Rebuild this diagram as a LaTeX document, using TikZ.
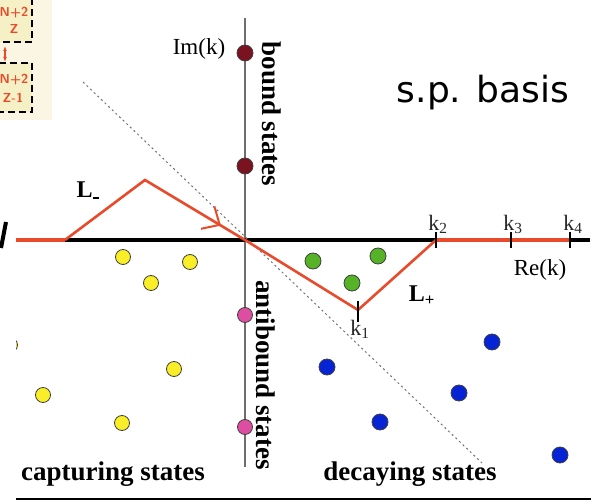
\documentclass[tikz,border=0pt]{standalone}
\usepackage{fontspec}
\setmainfont{Liberation Serif}
\newfontfamily\basisfont{DejaVu Sans}
\usetikzlibrary{arrows.meta,calc,decorations.markings}
\definecolor{contourred}{RGB}{232,74,44}
\definecolor{axisgray}{RGB}{110,110,110}
\definecolor{boundred}{RGB}{122,18,32}
\definecolor{antipink}{RGB}{222,78,160}
\definecolor{resgreen}{RGB}{86,178,38}
\definecolor{decayblue}{RGB}{6,36,214}
\definecolor{capyellow}{RGB}{250,238,40}
\definecolor{panelfill}{RGB}{251,246,228}
\definecolor{boxfill}{RGB}{246,240,198}
\tikzset{
statedot/.style={circle, inner sep=0pt, minimum size=15pt, draw=black!75, line width=0.8pt},
axislabel/.style={font=\fontsize{23}{26}\selectfont, text=black},
klabel/.style={font=\fontsize{22}{24}\selectfont, text=black!85},
contlabel/.style={font=\fontsize{24}{26}\selectfont\bfseries, text=black},
regionlabel/.style={font=\fontsize{27}{30}\selectfont\bfseries, text=black},
sidelabel/.style={font=\fontsize{27}{30}\selectfont\bfseries, text=black, rotate=-90},
ktick/.style={line width=2.6pt, draw=black},
contour/.style={draw=contourred, line width=2.6pt, line join=miter},
panelbox/.style={draw=black, dashed, dash pattern=on 7pt off 4pt, line width=2.4pt, fill=boxfill},
paneltext/.style={font=\fontsize{13}{14}\sffamily\bfseries\selectfont, text=contourred, inner sep=1pt}
}

\begin{document}
\begin{tikzpicture}[x=1pt,y=-1pt]
\useasboundingbox (0,0) rectangle (591,502);
\fill[white] (0,0) rectangle (591,502);

% left fragment
\fill[panelfill] (0,0) rectangle (52,120);
\draw[panelbox] (-20,-12) rectangle (32,42);
\draw[panelbox] (-20,63) rectangle (32,112);
\node[paneltext] (nzone) at (14,13) {N+2};
\node[paneltext] (zone) at (14,29) {Z};
\node[paneltext] (nztwo) at (14,80) {N+2};
\node[paneltext] (zztwo) at (13,98) {Z-1};
\coordinate (ua) at (5,46);
\coordinate (ub) at (5,62);
\draw[{Latex[length=5pt]}-{Latex[length=5pt]}, draw=contourred, line width=2pt] (ua) -- (ub);
\draw[line width=4pt] (6,222) -- (1,248);

\begin{scope}
\clip (16,0) rectangle (591,502);

% axes
\draw[line width=1.1pt, draw=axisgray] (245,18) -- (245,467);
\draw[line width=3.6pt] (16,240) -- (590,240);
\draw[dashed, dash pattern=on 2pt off 3pt, line width=1pt, draw=black!55] (83,82) -- (482,463);

% contour
\coordinate (Lstart) at (16,240);
\coordinate (Lfoot) at (65,240);
\coordinate (Lpeak) at (145,180);
\coordinate (origin) at (245,240);
\coordinate (kone) at (358,310);
\coordinate (ktwo) at (436,240);
\coordinate (kthree) at (511,240);
\coordinate (kfour) at (570,240);

\draw[draw=contourred, line width=4.6pt] (Lstart) -- (Lfoot);
\draw[draw=contourred, line width=4.6pt] (ktwo) -- (kfour);
\draw[contour] (Lfoot) -- (Lpeak) -- (origin) -- (kone) -- (ktwo);
\path[decoration={markings, mark=at position 0.76 with {\arrow[draw=contourred]{Straight Barb[length=14pt,width=26pt,line width=2pt]}}}, decorate] (Lpeak) -- (origin);

% ticks
\foreach \k in {ktwo, kthree, kfour} {
  \draw[ktick] ($(\k)+(0,-8)$) -- ($(\k)+(0,8)$);
}
\draw[ktick] (358,301) -- (358,322);

% states
\foreach \x/\y in {245/53, 245/166} {
  \node[statedot, fill=boundred, minimum size=16pt] at (\x,\y) {};
}
\foreach \x/\y in {245/315, 245/427} {
  \node[statedot, fill=antipink] at (\x,\y) {};
}
\foreach \x/\y in {313/261, 378/256, 352/283} {
  \node[statedot, fill=resgreen, minimum size=16pt] at (\x,\y) {};
}
\foreach \x/\y in {327/367, 492/342, 459/393, 380/422, 560/455} {
  \node[statedot, fill=decayblue, minimum size=16pt] at (\x,\y) {};
}
\foreach \x/\y in {123/257, 190/262, 151/283, 174/369, 43/395, 122/423, 10/345} {
  \node[statedot, fill=capyellow] at (\x,\y) {};
}

% labels
\node[axislabel] (imk) at (199,49) {Im(k)};
\node[axislabel] (rek) at (540,270) {Re(k)};
\node[klabel] (konelab) at (360,329) {k\textsubscript{1}};
\node[klabel] (ktwolab) at (438,224) {k\textsubscript{2}};
\node[klabel] (kthreelab) at (513,224) {k\textsubscript{3}};
\node[klabel] (kfourlab) at (573,224) {k\textsubscript{4}};
\node[contlabel] (lminus) at (88,192) {L\textsubscript{\rule[3pt]{6pt}{1.6pt}}};
\node[contlabel] (lplus) at (422,296) {L\textsubscript{+}};
\node[sidelabel] (boundlab) at (272,114) {bound states};
\node[sidelabel] (antilab) at (266,375) {antibound states};
\node[regionlabel] (caplab) at (113,474) {capturing states};
\node[regionlabel] (decaylab) at (410,474) {decaying states};

\draw[line width=2pt] (16,499) -- (591,499);
\end{scope}

\node[font=\basisfont\fontsize{36}{40}\selectfont] (basis) at (483,93) {s.p. basis};
\end{tikzpicture}
\end{document}
